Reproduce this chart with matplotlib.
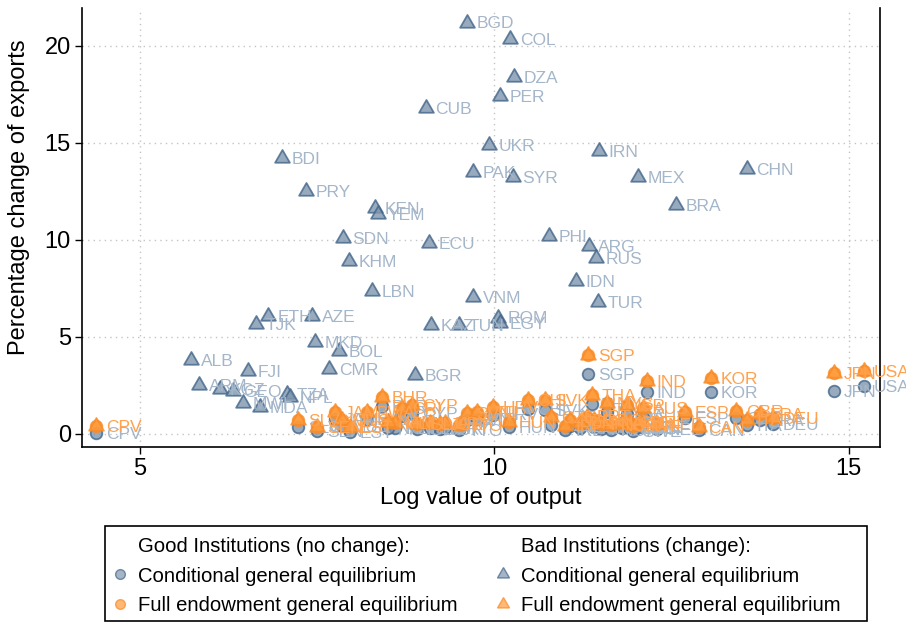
import matplotlib.pyplot as plt
from matplotlib.lines import Line2D
from matplotlib.patches import Rectangle

plt.rcParams['font.family'] = ['Liberation Sans', 'DejaVu Sans']

# Bad institutions (change): conditional general equilibrium
bad_names = ['BGD', 'COL', 'DZA', 'PER', 'CUB', 'UKR', 'IRN', 'PAK', 'SYR', 'MEX',
             'CHN', 'BDI', 'PRY', 'KEN', 'YEM', 'BRA', 'SDN', 'ECU', 'PHI', 'ARG',
             'RUS', 'KHM', 'IDN', 'LBN', 'TUR', 'VNM', 'ROM', 'EGY', 'KAZ', 'TUN',
             'ETH', 'AZE', 'TJK', 'MKD', 'BOL', 'CMR', 'ALB', 'FJI', 'BGR', 'ARM',
             'KGZ', 'GEO', 'MWI', 'MDA', 'TZA', 'NPL']
bad_x = [9.61, 10.22, 10.28, 10.08, 9.03, 9.92, 11.47, 9.70, 10.26, 12.02,
         13.56, 7.00, 7.34, 8.31, 8.36, 12.56, 7.86, 9.08, 10.77, 11.33,
         11.43, 7.95, 11.15, 8.27, 11.46, 9.70, 10.05, 10.08, 9.10, 9.50,
         6.81, 7.43, 6.64, 7.47, 7.81, 7.67, 5.72, 6.52, 8.88, 5.83,
         6.13, 6.31, 6.45, 6.69, 7.07, 7.12]
bad_cond = [21.2, 20.35, 18.4, 17.4, 16.8, 14.9, 14.6, 13.5, 13.25, 13.25,
            13.65, 14.2, 12.5, 11.65, 11.35, 11.8, 10.1, 9.85, 10.2, 9.7,
            9.07, 8.9, 7.9, 7.37, 6.8, 7.06, 6.0, 5.7, 5.6, 5.6,
            6.08, 6.08, 5.67, 4.74, 4.28, 3.35, 3.8, 3.25, 3.04, 2.53,
            2.32, 2.22, 1.6, 1.39, 2.06, 1.9]

# Good institutions (no change): conditional GE and full endowment GE
good_names = ['CPV', 'SGP', 'IND', 'KOR', 'JPN', 'USA', 'ESP', 'CAN', 'GBR', 'ITA',
              'FRA', 'DEU', 'SLV', 'SEN', 'JAM', 'MUS', 'EST', 'BWA', 'BHR', 'CRI',
              'CYP', 'LVA', 'JOR', 'URY', 'SVN', 'LTU', 'HRV', 'CHL', 'SVK', 'NZL',
              'THA', 'MYS', 'ISR', 'HUN', 'CZE', 'IRL', 'DNK', 'FIN', 'NOR', 'AUT',
              'SWE', 'BEL', 'NED', 'AUS', 'CHE', 'PRT', 'GRC', 'TTO', 'ISL', 'MLT',
              'NAM']
good_x = [4.38, 11.32, 12.15, 13.05, 14.79, 15.21, 12.69, 12.88, 13.41, 13.56,
          13.74, 13.93, 7.23, 7.50, 7.75, 7.85, 7.96, 8.20, 8.41, 8.70,
          8.84, 9.09, 9.23, 9.30, 9.61, 9.75, 9.98, 10.47, 10.71, 11.06,
          11.37, 11.59, 11.87, 10.20, 10.80, 11.00, 11.20, 11.50, 11.65, 11.80,
          11.95, 12.05, 12.30, 12.10, 11.90, 11.30, 11.40, 9.50, 8.90, 8.60,
          8.50]
good_cond = [0.05, 3.09, 2.16, 2.16, 2.22, 2.47, 0.82, 0.20, 0.82, 0.45,
             0.70, 0.50, 0.35, 0.15, 0.75, 0.40, 0.10, 0.75, 1.45, 0.95,
             1.10, 0.30, 0.25, 0.30, 0.70, 0.75, 1.00, 1.30, 1.25, 0.40,
             1.55, 1.15, 1.05, 0.35, 0.45, 0.20, 0.30, 0.25, 0.20, 0.30,
             0.15, 0.35, 0.25, 0.90, 0.30, 0.55, 0.35, 0.20, 0.25, 0.30,
             0.30]
good_full = [0.40, 4.07, 2.73, 2.89, 3.14, 3.25, 1.13, 0.36, 1.19, 0.72,
             1.03, 0.82, 0.72, 0.36, 1.13, 0.72, 0.36, 1.13, 1.91, 1.34,
             1.49, 0.57, 0.52, 0.57, 1.08, 1.13, 1.39, 1.75, 1.75, 0.72,
             2.01, 1.60, 1.49, 0.60, 0.85, 0.40, 0.55, 0.50, 0.45, 0.55,
             0.40, 0.60, 0.50, 1.35, 0.60, 0.90, 0.70, 0.45, 0.50, 0.55,
             0.60]

blue_fill = '#7f96ae'
blue_edge = '#43658a'
blue_text = '#a4b6c9'
orange_fill = '#ff9a3a'
orange_edge = '#f98a25'
orange_text = '#ffa24f'
tri = (3, 0, 0)  # equilateral triangle

fig = plt.figure(figsize=(9.06, 6.22), dpi=100)
ax = fig.add_axes([0.0905, 0.2814, 0.8808, 0.7057])

# blue series + labels
ax.scatter(good_x, good_cond, s=70, marker='o', color=blue_fill, edgecolors=blue_edge,
           linewidths=1.3, alpha=0.8, zorder=3)
for n, x, y in zip(good_names, good_x, good_cond):
    ax.annotate(n, (x, y), xytext=(7, -1), textcoords='offset points', va='center',
                color=blue_text, fontsize=12.5, zorder=3)
ax.scatter(bad_x, bad_cond, s=150, marker=tri, color=blue_fill, edgecolors=blue_edge,
           linewidths=1.3, alpha=0.8, zorder=3)
for n, x, y in zip(bad_names, bad_x, bad_cond):
    ax.annotate(n, (x, y), xytext=(7, -1), textcoords='offset points', va='center',
                color=blue_text, fontsize=12.5, zorder=3)

# orange series + labels
ax.scatter(good_x, good_full, s=70, marker='o', color=orange_fill, edgecolors=orange_edge,
           linewidths=1.3, alpha=0.8, zorder=4)
ax.scatter(good_x, good_full, s=150, marker=tri, color=orange_fill, edgecolors=orange_edge,
           linewidths=1.3, alpha=0.8, zorder=4)
for n, x, y in zip(good_names, good_x, good_full):
    ax.annotate(n, (x, y), xytext=(7, -1), textcoords='offset points', va='center',
                color=orange_text, fontsize=12.5, zorder=4)

ax.set_xlim(4.18, 15.44)
ax.set_ylim(-0.67, 21.95)
ax.set_xticks([5, 10, 15])
ax.set_yticks([0, 5, 10, 15, 20])
ax.grid(True, color='#c4c4c4', linestyle=(0, (1, 3)), linewidth=1)
ax.set_axisbelow(True)
ax.tick_params(labelsize=17, length=5, width=1, pad=3)
ax.spines['top'].set_visible(False)
for s in ['left', 'bottom', 'right']:
    ax.spines[s].set_linewidth(1.2)

ax.set_xlabel('Log value of output', fontsize=17, labelpad=5)
ax.set_ylabel('Percentage change of exports', fontsize=17)
ax.yaxis.set_label_coords(-0.065, 0.568)

# legend
blank = Line2D([], [], linestyle='none', marker='')
handles = [blank,
           Line2D([], [], linestyle='none', marker='o', markersize=7, markerfacecolor=blue_fill,
                  markeredgecolor=blue_edge, alpha=0.7),
           Line2D([], [], linestyle='none', marker='o', markersize=7, markerfacecolor=orange_fill,
                  markeredgecolor=orange_edge, alpha=0.7),
           blank,
           Line2D([], [], linestyle='none', marker=tri, markersize=10, markerfacecolor=blue_fill,
                  markeredgecolor=blue_edge, alpha=0.7),
           Line2D([], [], linestyle='none', marker=tri, markersize=10, markerfacecolor=orange_fill,
                  markeredgecolor=orange_edge, alpha=0.7)]
labels = ['Good Institutions (no change):', 'Conditional general equilibrium',
          'Full endowment general equilibrium',
          'Bad Institutions (change):', 'Conditional general equilibrium',
          'Full endowment general equilibrium']
fig.legend(handles, labels, ncol=2, loc='upper left', bbox_to_anchor=(110 / 906, 1 - 537 / 622),
           frameon=False, fontsize=14.6, borderpad=0, borderaxespad=0, handlelength=1.0,
           handletextpad=0.4, labelspacing=0.52, columnspacing=1.7)
fig.patches.append(Rectangle((105 / 906, 1 / 622), 762 / 906, 525 / 622 - 430 / 622,
                             transform=fig.transFigure, fill=False, edgecolor='black', linewidth=1.2))

fig.savefig('out.png', dpi=100)
